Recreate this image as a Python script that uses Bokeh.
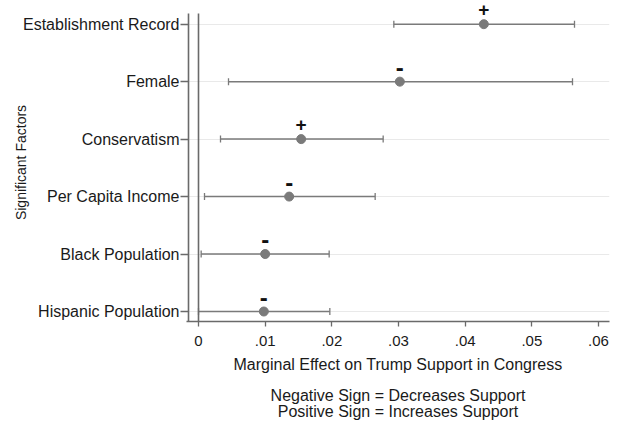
from bokeh.plotting import figure
from bokeh.models import (Range1d, FixedTicker, Whisker, TeeHead,
                          ColumnDataSource, LinearAxis)
from bokeh.embed import file_html
from bokeh.resources import INLINE
from bokeh.core.properties import value

# ---- data (top to bottom as in the chart) ----
factors = ["Establishment Record", "Female", "Conservatism",
           "Per Capita Income", "Black Population", "Hispanic Population"]
estimates = [0.0428, 0.0302, 0.0154, 0.0136, 0.0100, 0.0098]
lower = [0.0293, 0.0045, 0.0033, 0.0009, 0.0004, 0.0000]
upper = [0.0564, 0.0561, 0.0277, 0.0265, 0.0196, 0.0197]
signs = ["+", "-", "+", "-", "-", "-"]
x_ticks = [0, 0.01, 0.02, 0.03, 0.04, 0.05, 0.06]
x_tick_labels = ["0", ".01", ".02", ".03", ".04", ".05", ".06"]
x_title = "Marginal Effect on Trump Support in Congress"
y_title = "Significant Factors"
notes = ["Negative Sign = Decreases Support", "Positive Sign = Increases Support"]

n = len(factors)
ypos = [n - i for i in range(n)]

FONT = "Liberation Sans"
GRAY = "#7a7a7a"
AXIS = "#6a6a6a"
TXT = "#1a1a1a"

# axis extents (plot region) and the extra head-room for the sign above the top row
X0, X1 = -0.0018, 0.06165
AX_X = -0.0015
Y0, Y_AX_TOP, Y1 = 0.826, 6.186, 6.36

src = ColumnDataSource(dict(y=ypos, est=estimates, lo=lower, hi=upper, name=factors))
plus_src = ColumnDataSource(dict(
    y=[y for y, s in zip(ypos, signs) if s == "+"],
    est=[e for e, s in zip(estimates, signs) if s == "+"],
    sign=[s for s in signs if s == "+"]))
minus_src = ColumnDataSource(dict(
    y=[y for y, s in zip(ypos, signs) if s == "-"],
    est=[e for e, s in zip(estimates, signs) if s == "-"],
    sign=[s for s in signs if s == "-"]))

p = figure(frame_width=423, frame_height=318,
           min_border_left=186, min_border_right=2, min_border_top=3,
           min_border_bottom=100,
           x_range=Range1d(X0, X1), y_range=Range1d(Y0, Y1),
           output_backend="svg", toolbar_location=None,
           background_fill_color="white", border_fill_color="white")
p.outline_line_color = None

# grid
p.xgrid.grid_line_color = None
p.ygrid.grid_line_color = "#e9e9e9"
p.ygrid.grid_line_width = 1.2
p.ygrid.ticker = FixedTicker(ticks=ypos)

# y axis line and zero reference line (stop at the plot-region top)
p.segment(x0=[AX_X, 0], y0=[Y0, Y0], x1=[AX_X, 0], y1=[Y_AX_TOP, Y_AX_TOP],
          line_color=AXIS, line_width=1.6)

# error bars
w = Whisker(source=src, base="y", lower="lo", upper="hi", dimension="width",
            line_color=GRAY, line_width=1.5,
            lower_head=TeeHead(size=7, line_color=GRAY, line_width=1.3),
            upper_head=TeeHead(size=7, line_color=GRAY, line_width=1.3))
p.add_layout(w)

# points
p.scatter("est", "y", source=src, size=9, fill_color=GRAY, line_color=GRAY)

# signs
p.text("est", "y", text="sign", source=plus_src, text_align="center",
       text_baseline="middle", y_offset=-14.5, text_font=value(FONT),
       text_font_size="19px", text_font_style="bold", text_color="#111111")
p.text("est", "y", text="sign", source=minus_src, text_align="center",
       text_baseline="middle", y_offset=-14.5, text_font=value(FONT),
       text_font_size="24px", text_font_style="bold", text_color="#111111")

# x axis
xa = p.xaxis[0]
xa.ticker = FixedTicker(ticks=x_ticks)
xa.major_label_overrides = {t: l for t, l in zip(x_ticks, x_tick_labels)}
xa.axis_label = x_title
xa.axis_label_text_font = FONT
xa.axis_label_text_font_size = "16px"
xa.axis_label_text_font_style = "normal"
xa.axis_label_text_color = TXT
xa.axis_label_standoff = 7
xa.major_label_text_font = FONT
xa.major_label_text_font_size = "15px"
xa.major_label_text_color = TXT
xa.major_label_standoff = 9
xa.axis_line_color = AXIS
xa.axis_line_width = 1.6
xa.major_tick_line_color = AXIS
xa.major_tick_line_width = 1.3
xa.major_tick_out = 5
xa.major_tick_in = 0
xa.minor_tick_line_color = None

# y axis
ya = p.yaxis[0]
ya.ticker = FixedTicker(ticks=ypos)
ya.major_label_overrides = {y: f for y, f in zip(ypos, factors)}
ya.axis_label = y_title
ya.axis_label_text_font = FONT
ya.axis_label_text_font_size = "14px"
ya.axis_label_text_font_style = "normal"
ya.axis_label_text_color = TXT
ya.axis_label_standoff = -9
ya.major_label_text_font = FONT
ya.major_label_text_font_size = "16px"
ya.major_label_text_color = TXT
ya.major_label_standoff = 1
ya.axis_line_color = None
ya.major_tick_line_color = AXIS
ya.major_tick_line_width = 1.3
ya.major_tick_out = 6
ya.major_tick_in = 2
ya.minor_tick_line_color = None

# notes below the axis title: tick-less axes whose labels are the note lines
for i, txt in enumerate(notes):
    na = LinearAxis(ticker=FixedTicker(ticks=[]), axis_label=txt,
                    axis_label_text_font=FONT, axis_label_text_font_size="16px",
                    axis_label_text_font_style="normal",
                    axis_label_text_color=TXT,
                    axis_label_standoff=(11 if i == 0 else -4),
                    axis_line_color=None, major_tick_line_color=None,
                    minor_tick_line_color=None, major_tick_out=0,
                    major_tick_in=0, minor_tick_out=0, minor_tick_in=0,
                    major_label_standoff=0, major_label_text_font_size="1px")
    p.add_layout(na, "below")

open("out.html", "w").write(file_html(p, INLINE))
